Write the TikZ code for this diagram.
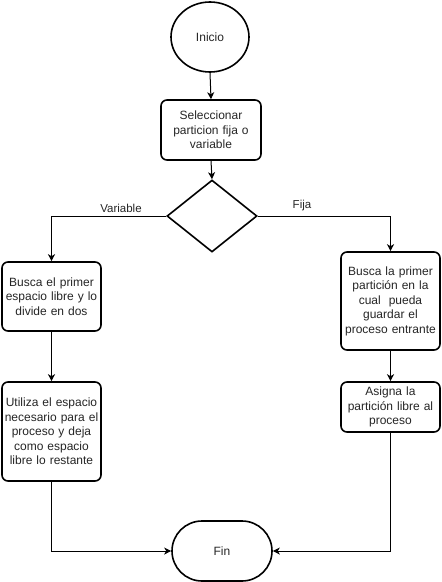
\documentclass[tikz,border=0pt]{standalone}
\usepackage{fontspec}
\setmainfont{Liberation Sans}
\usetikzlibrary{shapes.geometric,shapes.misc,arrows.meta}
\begin{document}
\begin{tikzpicture}[x=1pt,y=-1pt,
  every node/.style={font=\fontsize{12}{14.5}\selectfont, text=black!85},
  box/.style={draw=black, line width=1.6pt, rounded corners=6pt, align=center, inner sep=1pt, text width=96pt},
  conn/.style={draw=black, line width=1pt, -{Stealth[length=7pt,width=7pt,inset=2pt]}},
  lbl/.style={font=\fontsize{11.5}{13}\selectfont}]
\useasboundingbox (0,0) rectangle (442,582);
\fill[white] (0,0) rectangle (442,582);
\node[draw=black, line width=1.6pt, ellipse, minimum width=78pt, minimum height=70pt, inner sep=0pt] (ini) at (210,37) {Inicio};
\node[box, minimum width=100pt, minimum height=60pt] (sel) at (211,130) {Seleccionar\\particion fija o\\variable};
\node[draw=black, line width=1.6pt, diamond, minimum width=90pt, minimum height=72pt, inner sep=0pt, aspect=1.25] (dia) at (212,216) {};
\node[box, minimum width=99pt, minimum height=69pt] (lb1) at (51.5,296.5) {Busca el primer\\espacio libre y lo\\divide en dos};
\node[box, minimum width=99pt, minimum height=99pt] (lb2) at (51.5,431.5) {Utiliza el espacio\\necesario para el\\proceso y deja\\como espacio\\libre lo restante};
\node[box, minimum width=99pt, minimum height=98pt] (rb1) at (390.5,301) {Busca la primer\\partición en la\\cual\ \ pueda\\guardar el\\proceso entrante};
\node[box, minimum width=99pt, minimum height=50pt] (rb2) at (390.5,407) {Asigna la\\partición libre al\\proceso};
\node[draw=black, line width=1.6pt, rounded rectangle, minimum width=100pt, minimum height=60pt, inner sep=0pt] (fin) at (222,551) {Fin};
\draw[conn] (ini.south) -- (sel.north);
\draw[conn] (sel.south) -- (dia.north);
\draw[conn] (dia.west) -| (lb1.north);
\draw[conn] (dia.east) -| (rb1.north);
\draw[conn] (lb1.south) -- (lb2.north);
\draw[conn] (rb1.south) -- (rb2.north);
\draw[conn] (lb2.south) |- (fin.west);
\draw[conn] (rb2.south) |- (fin.east);
\node[lbl] (lv) at (121,208) {Variable};
\node[lbl] (lf) at (302,206) {Fija};
\end{tikzpicture}
\end{document}
